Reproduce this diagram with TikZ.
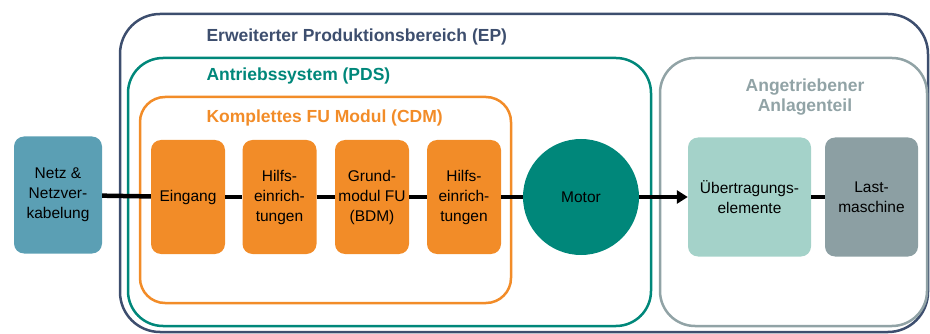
\documentclass[tikz,border=0pt]{standalone}
\usepackage{fontspec}
\setmainfont{Liberation Sans}
\usetikzlibrary{arrows.meta}

\definecolor{epblue}{HTML}{3D4E6E}
\definecolor{pdsteal}{HTML}{00877A}
\definecolor{cdmorange}{HTML}{F28C28}
\definecolor{loadgray}{HTML}{91A3A6}
\definecolor{netzblue}{HTML}{5B9FB4}
\definecolor{lightteal}{HTML}{A4D2C9}
\definecolor{darkgray}{HTML}{8C9FA3}

\begin{document}
\begin{tikzpicture}[x=1pt,y=-1pt,
    block/.style={rounded corners=10pt,minimum width=74pt,minimum height=114pt,
      align=center,inner sep=0pt,font=\fontsize{15.5}{20}\selectfont},
    frame/.style={line width=2.5pt,rounded corners=#1},
    title/.style={font=\bfseries\fontsize{17.5}{20}\selectfont,anchor=west},
    link/.style={line width=4.5pt}]
    \useasboundingbox (0,0) rectangle (930,334);
    % frames
    \draw[frame=40pt,epblue](120,14) rectangle (928,332);
    \draw[frame=35pt,pdsteal](128,58) rectangle (651,326);
    \draw[frame=25pt,cdmorange](140,97) rectangle (511,303);
    \draw[frame=35pt,loadgray](660,58) rectangle (927,326);
    \node[title,text=epblue] (ep) at (203,37) {Erweiterter Produktionsbereich (EP)};
    \node[title,text=pdsteal] (pds) at (203,76) {Antriebssystem (PDS)};
    \node[title,text=cdmorange] (cdm) at (203,118) {Komplettes FU Modul (CDM)};
    \node[title,text=loadgray,anchor=center,align=center] (load) at (805,97) {Angetriebener\\Anlagenteil};
    % blocks
    \node[block,fill=netzblue,minimum width=88pt,minimum height=117pt] (netz) at (58,195) {Netz \&\\Netzver-\\kabelung};
    \node[block,fill=cdmorange] (eingang) at (188,197) {Eingang};
    \node[block,fill=cdmorange] (hilfsa) at (279.5,197) {Hilfs-\\einrich-\\tungen};
    \node[block,fill=cdmorange] (grund) at (372,197) {Grund-\\modul FU\\(BDM)};
    \node[block,fill=cdmorange] (hilfsb) at (464,197) {Hilfs-\\einrich-\\tungen};
    \node[circle,fill=pdsteal,minimum size=116pt,inner sep=0pt,
      font=\fontsize{15.5}{20}\selectfont] (motor) at (581,197) {Motor};
    \node[block,fill=lightteal,minimum width=123pt,minimum height=119pt] (uebertr) at (749.5,197) {Übertragungs-\\elemente};
    \node[block,fill=darkgray,minimum width=93pt,minimum height=119pt] (last) at (871.5,197) {Last-\\maschine};
    % connectors
    \draw[link](netz) -- (eingang);
    \draw[link](eingang) -- (hilfsa);
    \draw[link](hilfsa) -- (grund);
    \draw[link](grund) -- (hilfsb);
    \draw[link](hilfsb) -- (motor);
    \draw[link,-{Triangle[length=11pt,width=13pt]}](motor) -- (uebertr);
    \draw[link](uebertr) -- (last);
\end{tikzpicture}
\end{document}
